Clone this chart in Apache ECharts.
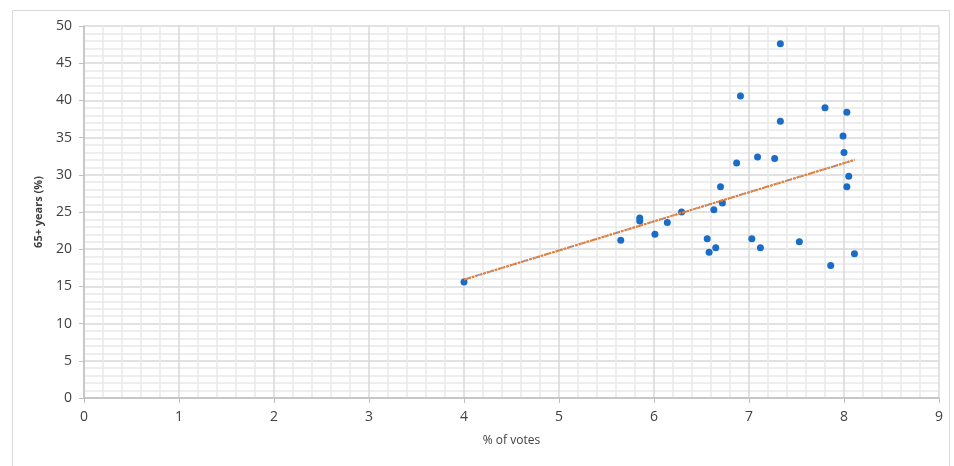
<!DOCTYPE html>
<html>
<head>
<meta charset="utf-8">
<script src="https://cdn.jsdelivr.net/npm/echarts@6/dist/echarts.min.js"></script>
<style>
  html, body { margin: 0; padding: 0; background: #fff; }
  #chart { width: 954px; height: 466px; }
</style>
</head>
<body>
<div id="chart"></div>
<script>
// Share of votes (%) per district
const votes = [4.00, 5.65, 5.85, 5.85, 6.01, 6.14, 6.29, 6.56, 6.58, 6.63, 6.65, 6.70, 6.72, 6.87, 6.91,
  7.03, 7.09, 7.12, 7.27, 7.33, 7.33, 7.53, 7.80, 7.86, 7.99, 8.00, 8.03, 8.03, 8.05, 8.11];
// Population aged 65+ (%) per district
const elderly = [15.6, 21.2, 24.2, 23.8, 22.0, 23.6, 25.0, 21.4, 19.6, 25.3, 20.2, 28.4, 26.2, 31.6, 40.6,
  21.4, 32.4, 20.2, 32.2, 47.6, 37.2, 21.0, 39.0, 17.8, 35.2, 33.0, 38.4, 28.4, 29.8, 19.4];

const xTicks = [0, 1, 2, 3, 4, 5, 6, 7, 8, 9];
const yTicks = [0, 5, 10, 15, 20, 25, 30, 35, 40, 45, 50];

// Least-squares linear trendline across the data range
function linearFit(xs, ys) {
  const n = xs.length;
  let sx = 0, sy = 0, sxx = 0, sxy = 0;
  for (let i = 0; i < n; i++) { sx += xs[i]; sy += ys[i]; sxx += xs[i] * xs[i]; sxy += xs[i] * ys[i]; }
  const b = (n * sxy - sx * sy) / (n * sxx - sx * sx);
  const a = (sy - b * sx) / n;
  return { a, b };
}
const fit = linearFit(votes, elderly);
const xMin = Math.min(...votes), xMax = Math.max(...votes);
const trend = [[xMin, fit.a + fit.b * xMin], [xMax, fit.a + fit.b * xMax]];

const chart = echarts.init(document.getElementById('chart'), null, { renderer: 'canvas' });
const font = "'Open Sans', 'Liberation Sans', sans-serif";

chart.setOption({
  animation: false,
  backgroundColor: '#ffffff',
  graphic: [{
    type: 'rect', silent: true, z: -10,
    shape: { x: 12.5, y: 10.5, width: 937, height: 470 },
    style: { fill: 'none', stroke: '#d9d9d9', lineWidth: 1 }
  }],
  grid: { left: 84, right: 15, top: 26, bottom: 68 },
  xAxis: {
    type: 'value', min: xTicks[0], max: xTicks[xTicks.length - 1], interval: 1,
    name: '% of votes', nameLocation: 'middle', nameGap: 37,
    nameTextStyle: { fontFamily: font, fontSize: 12, color: '#404040' },
    axisLine: { show: true, lineStyle: { color: '#bfbfbf', width: 1.5 } },
    axisTick: { show: true, length: 5, lineStyle: { color: '#bfbfbf' } },
    axisLabel: { fontFamily: font, fontSize: 14, color: '#404040', margin: 12 },
    splitLine: { show: true, lineStyle: { color: '#d9d9d9', width: 1.5 } },
    minorTick: { show: false, splitNumber: 5 },
    minorSplitLine: { show: true, lineStyle: { color: '#e9e9e9', width: 1.5 } }
  },
  yAxis: {
    type: 'value', min: yTicks[0], max: yTicks[yTicks.length - 1], interval: 5,
    name: '65+ years (%)', nameLocation: 'middle', nameGap: 40, nameRotate: 90,
    nameTextStyle: { fontFamily: font, fontSize: 11, fontWeight: 'bold', color: '#404040' },
    axisLine: { show: true, lineStyle: { color: '#bfbfbf', width: 1.5 } },
    axisTick: { show: true, length: 5, lineStyle: { color: '#bfbfbf' } },
    axisLabel: { fontFamily: font, fontSize: 14, color: '#404040', margin: 12 },
    splitLine: { show: true, lineStyle: { color: '#d9d9d9', width: 1.5 } },
    minorTick: { show: false, splitNumber: 5 },
    minorSplitLine: { show: true, lineStyle: { color: '#e9e9e9', width: 1.5 } }
  },
  series: [
    {
      name: 'districts', type: 'scatter', symbolSize: 7,
      data: votes.map((v, i) => [v, elderly[i]]),
      itemStyle: { color: '#1a6cc7', opacity: 1 }, z: 3
    },
    {
      name: 'trend-shadow', type: 'line', data: trend, symbol: 'none', silent: true,
      lineStyle: { color: '#4a7fd0', width: 2, type: [1, 2] }, z: 4
    },
    {
      name: 'trend', type: 'line', data: trend, symbol: 'none', silent: true,
      lineStyle: { color: '#ed7d31', width: 2, type: [3, 1] }, z: 5
    }
  ]
});
</script>
</body>
</html>
